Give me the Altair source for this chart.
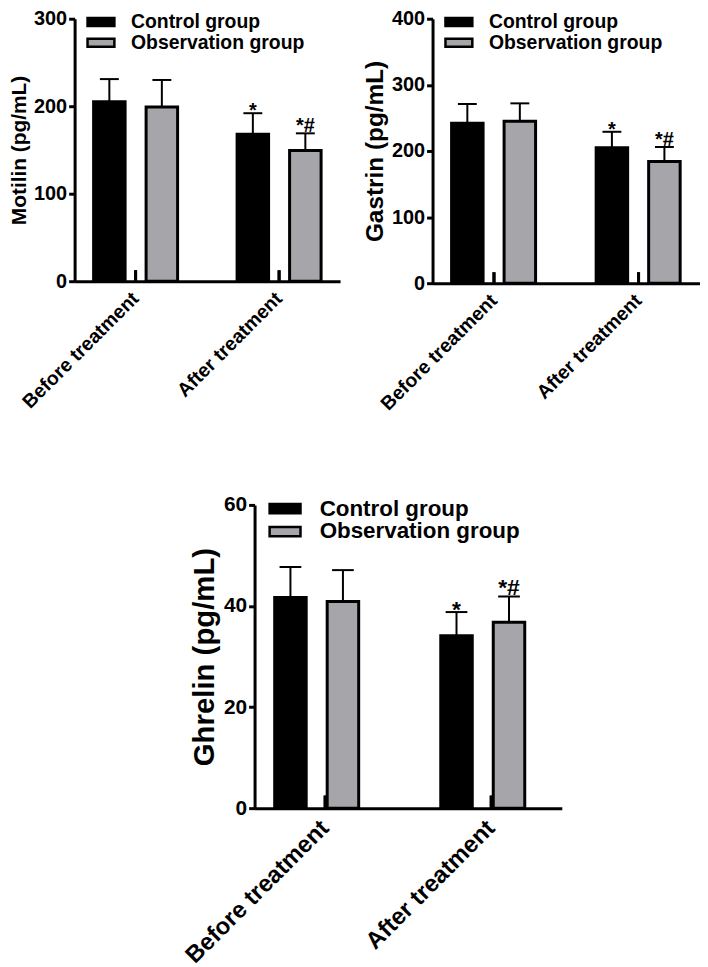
import altair as alt
import pandas as pd

groups = ["Before treatment", "After treatment"]
series = ["Control group", "Observation group"]
colors = ["#000000", "#a6a6aa"]

motilin_mean = [205, 199, 168, 149.5]
motilin_upper = [231, 230, 192, 169]
gastrin_mean = [242, 245, 205, 184]
gastrin_upper = [271, 272, 229, 206]
ghrelin_mean = [41.7, 40.9, 34.1, 36.8]
ghrelin_upper = [47.7, 47.1, 38.8, 41.9]
sig_marks = ["", "", "*", "*#"]

FONT = "Liberation Sans"
RECT = "M-2,-0.6H2V0.6H-2Z"


def panel(mean, upper, ytitle, ymax, yticks, w, h, k, title_fs, tick_fs, xlab_fs, leg_fs):
    df = pd.DataFrame({
        "group": [g for g in groups for _ in series],
        "series": [s for _ in groups for s in series],
        "mean": mean,
        "upper": upper,
        "sig": sig_marks,
    })
    x = alt.X("group:N", sort=groups, title=None,
              scale=alt.Scale(paddingInner=0.25, paddingOuter=0.05),
              axis=alt.Axis(labelAngle=-45, labelAlign="right", labelBaseline="middle",
                            labelFontSize=xlab_fs, labelFont=FONT, labelFontWeight="bold",
                            labelColor="black", ticks=False, labelPadding=14 * k,
                            labelLimit=400, domainWidth=3, domainColor="black"))
    xo = alt.XOffset("series:N", sort=series,
                     scale=alt.Scale(paddingInner=0.4, paddingOuter=0.225))
    yaxis = alt.Axis(values=yticks, title=ytitle, grid=False, titleFont=FONT,
                     titleFontSize=title_fs, titleFontWeight="bold", titleColor="black",
                     labelFont=FONT, labelFontSize=tick_fs, labelFontWeight="bold",
                     labelColor="black", tickSize=6, tickWidth=3, tickColor="black",
                     domainWidth=3, domainColor="black", labelPadding=2, titlePadding=4)
    yscale = alt.Scale(domain=[0, ymax], nice=False)

    def Y(f):
        return alt.Y(f, scale=yscale, axis=yaxis, title=ytitle)

    sw = 13.5 * k
    base = alt.Chart(df)
    err = base.mark_rule(color="black", strokeWidth=2).encode(
        x=x, xOffset=xo, y=Y("mean:Q"), y2="upper:Q")
    cap = base.mark_tick(color="black", thickness=2, size=19 * k, orient="horizontal",
                         opacity=1).encode(x=x, xOffset=xo, y=Y("upper:Q"))
    bars = base.mark_bar(stroke="black", strokeWidth=3, opacity=1).encode(
        x=x, xOffset=xo, y=Y("mean:Q"),
        color=alt.Color("series:N", sort=series,
                        scale=alt.Scale(domain=series, range=colors),
                        legend=alt.Legend(orient="none", legendX=11 * k + sw / 2 - 1,
                                          legendY=-6.5 * k,
                                          title=None, symbolType=RECT,
                                          symbolSize=sw ** 2,
                                          symbolStrokeColor="black", symbolStrokeWidth=2.5,
                                          symbolOpacity=1, labelFont=FONT,
                                          labelFontSize=leg_fs, labelFontWeight="bold",
                                          labelColor="black", labelOffset=13.7 * k + sw / 2,
                                          labelLimit=500, rowPadding=0, padding=0)))
    center = base.mark_rule(color="black", strokeWidth=3).encode(
        x=x, y=alt.value(h - 11 * k), y2=alt.value(h))
    star = base.transform_filter("datum.sig == '*'").mark_text(
        font=FONT, fontSize=20 * k, fontWeight="bold", color="black",
        baseline="alphabetic", dy=4 * k).encode(x=x, xOffset=xo, y=Y("upper:Q"), text="sig:N")
    starhash = base.transform_filter("datum.sig == '*#'").mark_text(
        font=FONT, fontSize=20 * k, fontWeight="bold", color="black",
        baseline="alphabetic", dy=-1).encode(x=x, xOffset=xo, y=Y("upper:Q"), text="sig:N")
    return alt.layer(err, cap, bars, center, star, starhash).properties(width=w, height=h)


p1 = panel(motilin_mean, motilin_upper, "Motilin (pg/mL)", 300, [0, 100, 200, 300],
           267, 264, 1.0, 21, 20, 19.5, 19.5)
p2 = panel(gastrin_mean, gastrin_upper, "Gastrin (pg/mL)", 400, [0, 100, 200, 300, 400],
           269, 266, 1.0, 24.5, 20, 19.5, 19.5)
p3 = panel(ghrelin_mean, ghrelin_upper, "Ghrelin (pg/mL)", 60, [0, 20, 40, 60],
           309, 305, 1.15, 29.5, 21, 24, 22.5)

spacer = alt.Chart(pd.DataFrame({"v": [0]})).mark_point(opacity=0).encode(
    x=alt.X("v:Q", axis=None), y=alt.Y("v:Q", axis=None)).properties(width=107, height=10)

top = alt.hconcat(p1, p2, spacing=22).resolve_scale(
    color="independent").resolve_legend(color="independent")
bottom = alt.hconcat(spacer, p3, spacing=0).resolve_scale(
    color="independent").resolve_legend(color="independent")
chart = alt.vconcat(top, bottom, spacing=80, center=False).resolve_scale(
    color="independent").resolve_legend(color="independent").properties(
    padding={"left": 0, "top": -2, "right": 0, "bottom": 0}
).configure_view(stroke=None)

chart.save("out.html", embed_options={"renderer": "svg", "actions": False})
